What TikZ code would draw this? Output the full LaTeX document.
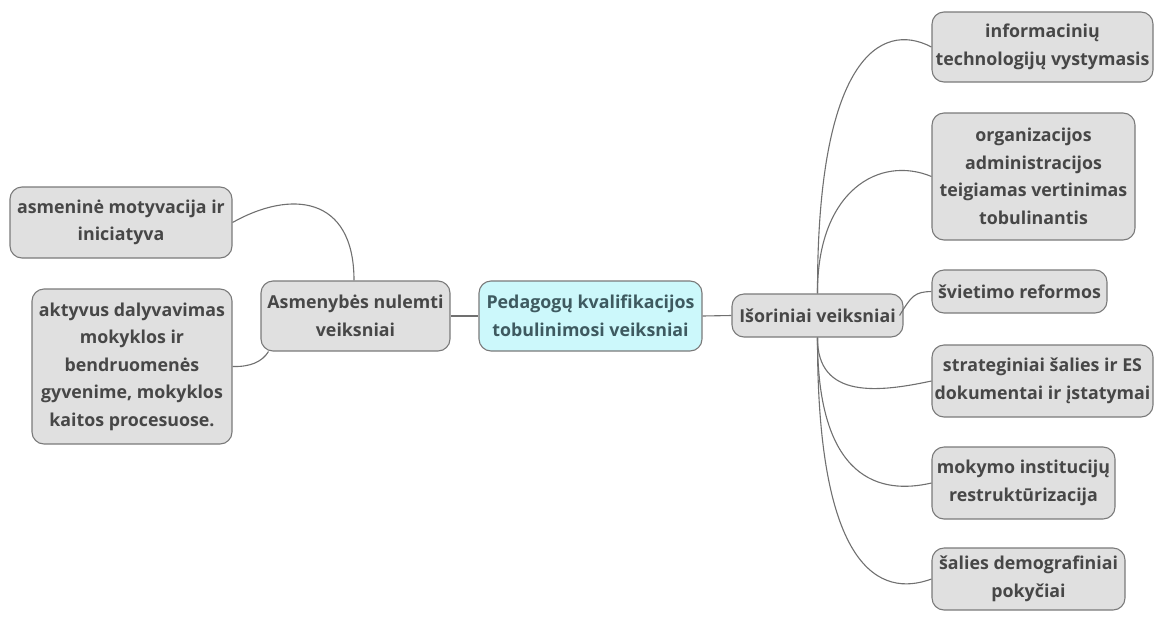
\documentclass[tikz,border=0pt]{standalone}
\usepackage{fontspec}
\setmainfont{Open Sans}[UprightFont=* Bold]
\definecolor{boxfill}{HTML}{E0E0E0}
\definecolor{boxline}{HTML}{7A7A7A}
\definecolor{txt}{HTML}{474747}
\definecolor{cyanfill}{HTML}{CCF8FB}
\definecolor{cyantxt}{HTML}{3E5A60}
\definecolor{edge}{HTML}{707070}
\begin{document}
\begin{tikzpicture}[x=1pt,y=-1pt,
  mbox/.style={draw=boxline, line width=1.1pt, fill=boxfill, rounded corners=12pt,
    text=txt, align=center, inner sep=0pt, font=\fontsize{17.8}{27.5}\selectfont},
  link/.style={draw=edge, line width=1.1pt}]
\useasboundingbox (0,0) rectangle (1155,616);
% nodes
\node[mbox, minimum width=222pt, minimum height=71pt] (mot) at (121,222.5) {asmeninė motyvacija ir\\iniciatyva};
\node[mbox, minimum width=200pt, minimum height=155pt] (akt) at (132,366.5) {aktyvus dalyvavimas\\mokyklos ir\\bendruomenės\\gyvenime, mokyklos\\kaitos procesuose.};
\node[mbox, minimum width=189pt, minimum height=70pt] (asm) at (355.5,316) {Asmenybės nulemti\\veiksniai};
\node[mbox, fill=cyanfill, text=cyantxt, minimum width=223pt, minimum height=70pt] (ctr) at (590.5,316) {Pedagogų kvalifikacijos\\tobulinimosi veiksniai};
\node[mbox, minimum width=171pt, minimum height=43pt] (isor) at (817.5,315.5) {Išoriniai veiksniai};
\node[mbox, minimum width=221pt, minimum height=70pt] (inf) at (1042.5,47) {informacinių\\technologijų vystymasis};
\node[mbox, minimum width=203pt, minimum height=127pt] (org) at (1033.5,176.5) {organizacijos\\administracijos\\teigiamas vertinimas\\tobulinantis};
\node[mbox, minimum width=175pt, minimum height=43pt] (svi) at (1019.5,291.5) {švietimo reformos};
\node[mbox, minimum width=221pt, minimum height=72pt] (str) at (1042.5,381) {strateginiai šalies ir ES\\dokumentai ir įstatymai};
\node[mbox, minimum width=183pt, minimum height=72pt] (mok) at (1023.5,483) {mokymo institucijų\\restruktūrizacija};
\node[mbox, minimum width=193pt, minimum height=62pt] (sal) at (1028.5,579) {šalies demografiniai\\pokyčiai};
% connectors
\draw[link] (asm.east) -- (ctr.west);
\draw[link] (ctr.east) -- (isor.west);
\draw[link] (asm.north -| 354,0) .. controls (354,195) and (290,190) .. (mot.east);
\draw[link] ([xshift=-87pt]asm.south) .. controls (262,362) and (250,367) .. (akt.east);
\draw[link] (isor.north) .. controls (817,60) and (880,20) .. (inf.west);
\draw[link] (isor.north) .. controls (817,190) and (880,155) .. (org.west);
\draw[link] ([xshift=-4pt]isor.east) .. controls (912,295) and (915,292) .. (svi.west);
\draw[link] (isor.south) .. controls (817,400) and (880,392) .. (str.west);
\draw[link] (isor.south) .. controls (817,480) and (880,495) .. (mok.west);
\draw[link] (isor.south) .. controls (817,570) and (880,598) .. (sal.west);
\end{tikzpicture}
\end{document}
